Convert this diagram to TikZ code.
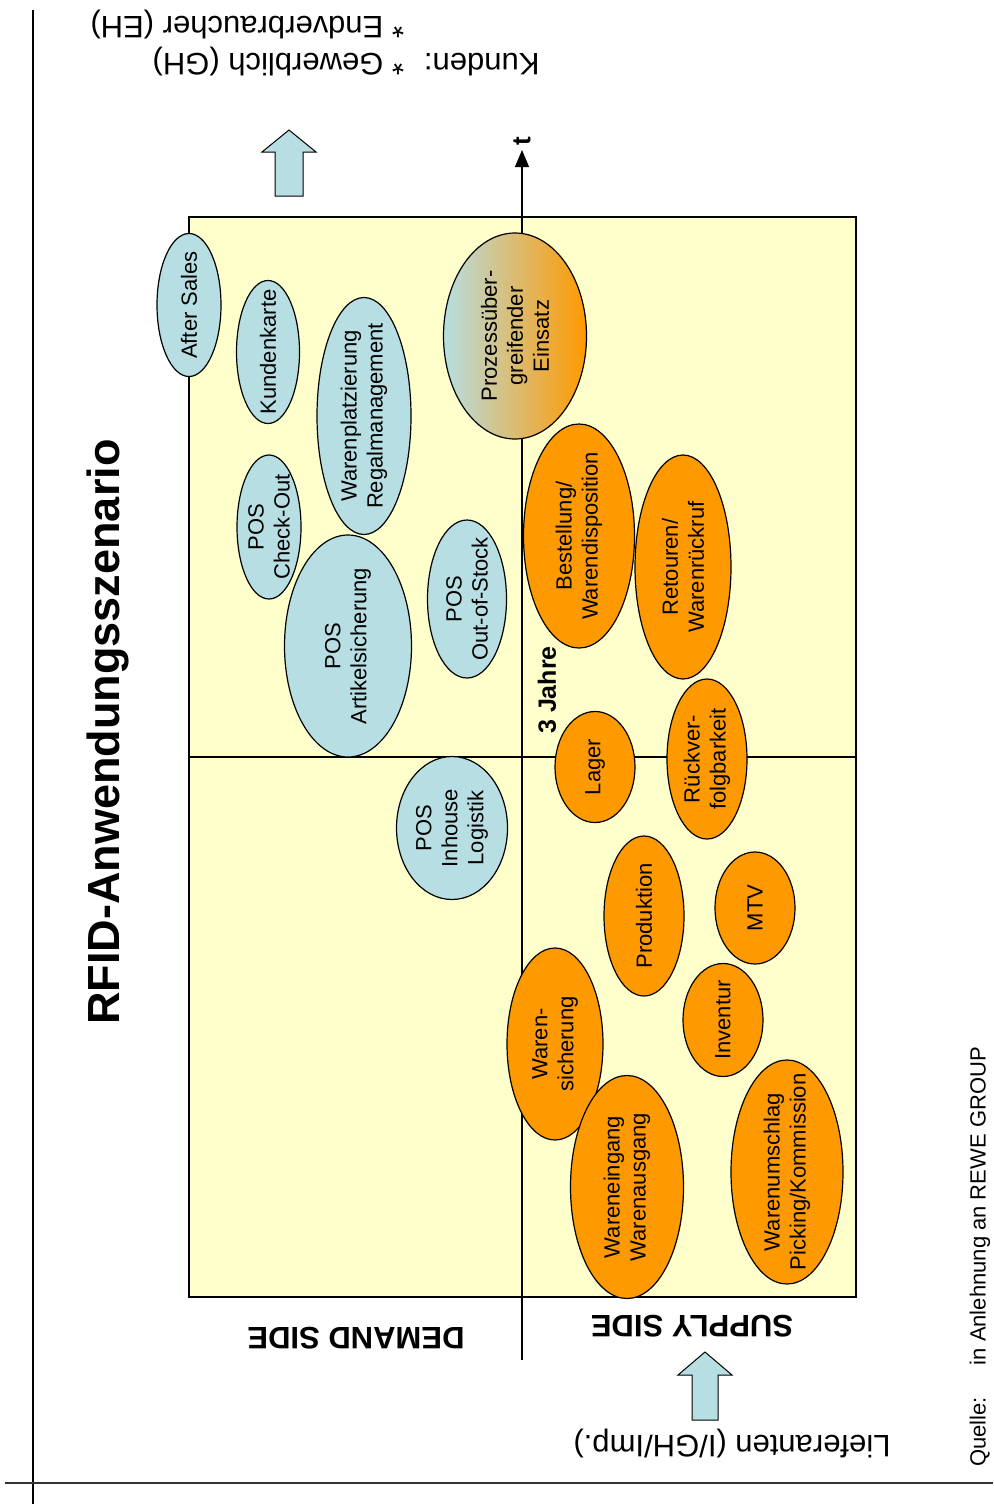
\documentclass[tikz,border=0pt]{standalone}
\usepackage{fontspec}
\setmainfont{Liberation Sans}
\usepackage{tikz}
\usetikzlibrary{arrows.meta,shapes.geometric}
\definecolor{demcolor}{RGB}{183,222,226}
\definecolor{supcolor}{RGB}{255,153,0}
\definecolor{bgcolor}{RGB}{255,255,204}

\begin{document}
\begin{tikzpicture}[x=1pt, y=-1pt,
    bubble/.style={ellipse, draw, line width=1.2pt, inner sep=0pt},
    ell/.style 2 args={minimum width=#2, minimum height=#1},
    dem/.style={bubble, fill=demcolor},
    sup/.style={bubble, fill=supcolor},
    txt/.style={rotate=90, align=center, inner sep=0pt, font=\fontsize{22}{26}\selectfont},
    side/.style={rotate=180, font=\bfseries\fontsize{31}{37}\selectfont},
    block/.style={draw, line width=1pt, fill=demcolor}]
    \useasboundingbox (0,0) rectangle (993,1504);
    % Rahmen der Seite
    \draw[line width=1.2pt] (33,10) -- (33,1504);
    \draw[line width=1.5pt, black!80] (5,1483) -- (993,1483);
    % Matrix
    \draw[fill=bgcolor, line width=1.2pt] (189,217) rectangle (856,1297);
    \draw[line width=1.2pt] (189,757) -- (856,757);
    \coordinate (t0) at (522,1360);
    \coordinate (t1) at (522,150);
    \draw[line width=1.2pt, -{Triangle[length=17pt,width=14pt]}] (t0) -- (t1);
    \node[rotate=90, font=\bfseries\fontsize{26}{30}\selectfont] (tlab) at (522,141) {t};
    \node[rotate=90, font=\bfseries\fontsize{25}{30}\selectfont] (jahre) at (547,690) {3 Jahre};
    % Pfeile Kunden / Lieferanten
    \draw[block] (275,196) -- (275,152) -- (262,152) -- (289,130) -- (316,152) -- (303,152) -- (303,196) -- cycle;
    \draw[block] (692,1420) -- (692,1375) -- (678,1375) -- (705,1352) -- (732,1375) -- (718,1375) -- (718,1420) -- cycle;
    % Texte
    \node[rotate=90, font=\bfseries\fontsize{45}{54}\selectfont] (title) at (108,732) {RFID-Anwendungsszenario};
    \node[rotate=180, inner sep=0pt, font=\fontsize{31}{37}\selectfont] (kunden) at (315,42)
        {\begin{tabular}{@{}l@{\hspace{20pt}}l@{}}Kunden: & * Gewerblich (GH)\\ & * Endverbraucher (EH)\end{tabular}};
    \node[side] (demand) at (356,1338) {DEMAND SIDE};
    \node[side] (supply) at (692,1326) {SUPPLY SIDE};
    \node[rotate=180, font=\fontsize{31}{37}\selectfont] (liefer) at (732,1443) {Lieferanten (I/GH/Imp.)};
    \node[rotate=90, font=\fontsize{22}{26}\selectfont] (quelle) at (980,1257) {Quelle:\hspace{32pt}in Anlehnung an REWE GROUP};
    % Demand side
    \node[dem, ell={143pt}{64pt}] (after) at (189,305) {};
    \node[txt] (after-t) at (after) {After Sales};
    \node[dem, ell={143pt}{63pt}] (karte) at (268,352) {};
    \node[txt] (karte-t) at (karte) {Kundenkarte};
    \node[dem, ell={237pt}{94pt}] (regal) at (364,416) {};
    \node[txt] (regal-t) at (regal) {Warenplatzierung\\Regalmanagement};
    \node[dem, ell={144pt}{64pt}] (checkout) at (269,527) {};
    \node[txt] (checkout-t) at (checkout) {POS\\Check-Out};
    \node[dem, ell={222pt}{127pt}] (artikel) at (348,646) {};
    \node[txt] (artikel-t) at (artikel) {POS\\Artikelsicherung};
    \node[dem, ell={158pt}{79pt}] (stock) at (467,599) {};
    \node[txt] (stock-t) at (stock) {POS\\Out-of-Stock};
    \node[dem, ell={143pt}{111pt}] (inhouse) at (452,828) {};
    \node[txt] (inhouse-t) at (inhouse) {POS\\Inhouse\\Logistik};
    \node[bubble, ell={206pt}{143pt}, left color=demcolor, right color=supcolor] (prozess) at (515,336) {};
    \node[txt] (prozess-t) at (prozess) {Prozessüber-\\greifender\\Einsatz};
    % Supply side
    \node[sup, ell={224pt}{111pt}] (bestell) at (579,536) {};
    \node[txt] (bestell-t) at (bestell) {Bestellung/\\Warendisposition};
    \node[sup, ell={224pt}{96pt}] (retour) at (683,567) {};
    \node[txt] (retour-t) at (retour) {Retouren/\\Warenrückruf};
    \node[sup, ell={111pt}{80pt}] (lager) at (595,767) {};
    \node[txt] (lager-t) at (lager) {Lager};
    \node[sup, ell={160pt}{80pt}] (rueck) at (707,759) {};
    \node[txt] (rueck-t) at (rueck) {Rückver-\\folgbarkeit};
    \node[sup, ell={160pt}{80pt}] (prod) at (644,916) {};
    \node[txt] (prod-t) at (prod) {Produktion};
    \node[sup, ell={112pt}{80pt}] (mtv) at (755,908) {};
    \node[txt] (mtv-t) at (mtv) {MTV};
    \node[sup, ell={192pt}{96pt}] (sicher) at (555,1044) {};
    \node[txt] (sicher-t) at (sicher) {Waren-\\sicherung};
    \node[sup, ell={113pt}{80pt}] (inventur) at (723,1020) {};
    \node[txt] (inventur-t) at (inventur) {Inventur};
    \node[sup, ell={223pt}{113pt}] (eingang) at (627,1187) {};
    \node[txt] (eingang-t) at (eingang) {Wareneingang\\Warenausgang};
    \node[sup, ell={224pt}{112pt}] (umschlag) at (787,1172) {};
    \node[txt] (umschlag-t) at (umschlag) {Warenumschlag\\Picking/Kommission};
\end{tikzpicture}
\end{document}
